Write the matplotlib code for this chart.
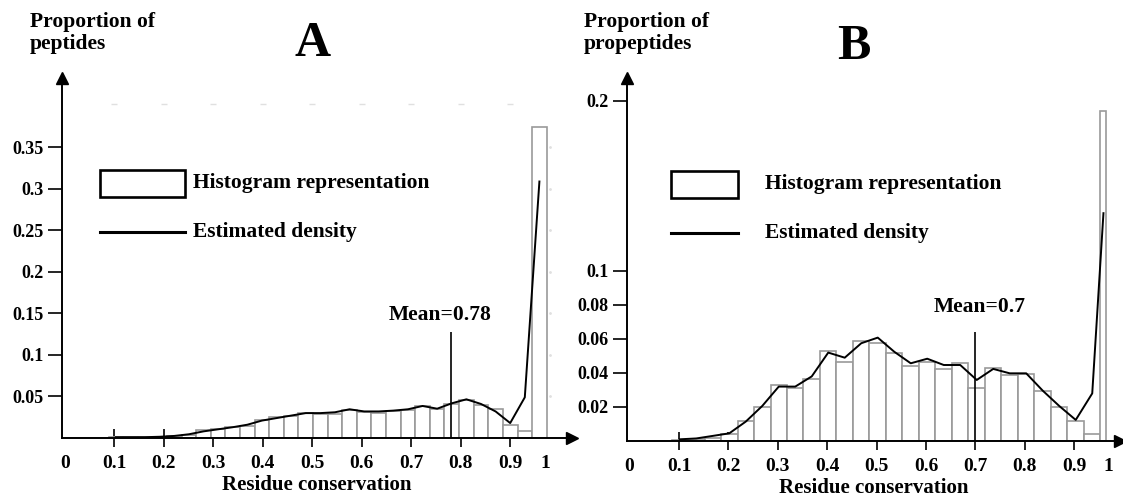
import numpy as np
import matplotlib.pyplot as plt
from matplotlib.patches import Rectangle
from matplotlib.lines import Line2D

plt.rcParams['font.family'] = ['Liberation Serif', 'DejaVu Serif']
plt.rcParams['font.weight'] = 'bold'
plt.rcParams['axes.labelweight'] = 'bold'

nan = np.nan

# ---- Panel A: peptides ----
a_bin_start = 0.0
a_bin_width = 0.0295
a_hist = [0.0005, 0.0005, 0.0005, 0.001, 0.001, 0.001, 0.001,
          0.0024, 0.0042, 0.0096, 0.011, 0.0136, 0.015, 0.0217, 0.025, 0.027,
          0.0297, 0.029, 0.029, 0.034, 0.031, 0.030, 0.033, 0.034, 0.038,
          0.035, 0.041, 0.046, 0.040, 0.0346, 0.016, 0.008, 0.375]
a_density = [nan, nan, nan, 0.001, 0.001, 0.001, 0.0015, 0.0025, 0.0045,
             0.008, 0.0105, 0.013, 0.016, 0.021, 0.024, 0.027, 0.030, 0.030,
             0.031, 0.0346, 0.032, 0.032, 0.033, 0.0346, 0.0386, 0.0353,
             0.0418, 0.0466, 0.041, 0.032, 0.018, 0.049, 0.309]
a_mean = 0.78
a_mean_top = 0.128
a_yticks = [0.05, 0.1, 0.15, 0.2, 0.25, 0.3, 0.35]
a_yticklabels = ['0.05', '0.1', '0.15', '0.2', '0.25', '0.3', '0.35']

# ---- Panel B: propeptides ----
b_bin_start = 0.018
b_bin_width = 0.0334
b_hist = [0.0, 0.0, 0.0005, 0.001, 0.002, 0.004, 0.012, 0.020, 0.033, 0.031,
          0.0365, 0.053, 0.0467, 0.059, 0.0575, 0.052, 0.0443, 0.0467, 0.0424,
          0.046, 0.031, 0.0428, 0.0388, 0.0394, 0.0296, 0.020, 0.0118, 0.004]
b_last_bar = 0.194
b_density = [nan, nan, 0.001, 0.0015, 0.003, 0.0045, 0.0114, 0.0206, 0.032,
             0.032, 0.038, 0.052, 0.049, 0.0575, 0.0608, 0.0525, 0.0457,
             0.0484, 0.0447, 0.0447, 0.0359, 0.0424, 0.0398, 0.0398, 0.0296,
             0.0206, 0.0124, 0.028, 0.134]
b_mean = 0.7
b_mean_top = 0.064
b_yticks = [0.02, 0.04, 0.06, 0.08, 0.1, 0.2]
b_yticklabels = ['0.02', '0.04', '0.06', '0.08', '0.1', '0.2']

x_ticks = [0, 0.1, 0.2, 0.3, 0.4, 0.5, 0.6, 0.7, 0.8, 0.9, 0.97]
x_ticklabels = ['0', '0.1', '0.2', '0.3', '0.4', '0.5', '0.6', '0.7', '0.8', '0.9', '1']

BAR_EDGE = '#9a9a9a'


def style_axes(ax, xlim, ylim, yticks, yticklabels):
    ax.set_xlim(*xlim)
    ax.set_ylim(*ylim)
    for side in ('top', 'right'):
        ax.spines[side].set_visible(False)
    for side in ('left', 'bottom'):
        ax.spines[side].set_linewidth(1.4)
    ax.plot(1, 0, marker='>', color='k', ms=8, transform=ax.transAxes, clip_on=False)
    ax.plot(0, 1, marker='^', color='k', ms=8, transform=ax.transAxes, clip_on=False)

    ax.set_xticks(x_ticks, x_ticklabels)
    ax.tick_params(axis='x', direction='inout', length=13, width=1.2, labelsize=14, pad=6)
    ticks = ax.xaxis.get_major_ticks()
    ticks[0].tick1line.set_visible(False)
    ticks[-1].tick1line.set_visible(False)

    ax.set_yticks(yticks, yticklabels)
    ax.tick_params(axis='y', direction='out', length=10, width=1.2, labelsize=13, pad=3)
    ax.set_xlabel('Residue conservation', fontsize=15, fontweight='bold', labelpad=2)


def draw_legend(ax, rect_x, rect_w, text_x):
    ax.add_patch(Rectangle((rect_x, 0.670), rect_w, 0.074, transform=ax.transAxes,
                           fill=False, edgecolor='k', linewidth=1.9, clip_on=False))
    ax.add_line(Line2D([rect_x, rect_x + rect_w], [0.572, 0.572], transform=ax.transAxes,
                       color='k', linewidth=2.2))
    ax.text(text_x, 0.707, 'Histogram representation', transform=ax.transAxes,
            fontsize=15.5, va='center', ha='left')
    ax.text(text_x, 0.572, 'Estimated density', transform=ax.transAxes,
            fontsize=15.5, va='center', ha='left')


fig = plt.figure(figsize=(11.23, 5.01), dpi=100)

# ---------- A ----------
ax_a = fig.add_axes([62 / 1123, 63 / 501, 510 / 1123, 360 / 501])
a_left = a_bin_start + a_bin_width * np.arange(len(a_hist))
ax_a.bar(a_left, a_hist, width=a_bin_width, align='edge', facecolor='white',
         edgecolor=BAR_EDGE, linewidth=1.2, zorder=2)
ax_a.plot(a_left + a_bin_width / 2, a_density, color='k', lw=1.4, zorder=3)
ax_a.vlines(a_mean, 0, a_mean_top, color='k', lw=1.2, zorder=4)
ax_a.text(0.741, 0.342, 'Mean=%g' % a_mean, transform=ax_a.transAxes,
          fontsize=15.5, ha='center', va='center')
# faint remnants of the original frame
ax_a.plot(x_ticks[1:10], [0.402] * 9, ls='none', marker='_', ms=4, color='#e0e0e0')
ax_a.plot([0.981] * len(a_yticks), a_yticks, ls='none', marker='.', ms=2, color='#e0e0e0')
style_axes(ax_a, (-0.0057, 1.0246), (0, 0.4337), a_yticks, a_yticklabels)
draw_legend(ax_a, 0.0745, 0.1667, 0.257)

# ---------- B ----------
ax_b = fig.add_axes([626.7 / 1123, 60 / 501, 493.3 / 1123, 363 / 501])
b_left = b_bin_start + b_bin_width * np.arange(len(b_hist))
ax_b.bar(b_left, b_hist, width=b_bin_width, align='edge', facecolor='white',
         edgecolor=BAR_EDGE, linewidth=1.2, zorder=2)
last_left = b_bin_start + b_bin_width * len(b_hist)
ax_b.bar(last_left, b_last_bar, width=0.012, align='edge', facecolor='white',
         edgecolor=BAR_EDGE, linewidth=1.2, zorder=2)
b_x = np.append(b_left + b_bin_width / 2, last_left + 0.006)
ax_b.plot(b_x, b_density, color='k', lw=1.4, zorder=3)
ax_b.vlines(b_mean, 0, b_mean_top, color='k', lw=1.2, zorder=4)
ax_b.text(0.716, 0.369, 'Mean=%g' % b_mean, transform=ax_b.transAxes,
          fontsize=15.5, ha='center', va='center')
style_axes(ax_b, (-0.0059, 0.9927), (0, 0.2135), b_yticks, b_yticklabels)
draw_legend(ax_b, 0.089, 0.136, 0.280)

# ---------- panel titles / y labels ----------
fig.text(30 / 1123, 1 - 12 / 501, 'Proportion of\npeptides', fontsize=15.5,
         ha='left', va='top', linespacing=1.1)
fig.text(584 / 1123, 1 - 12 / 501, 'Proportion of\npropeptides', fontsize=15.5,
         ha='left', va='top', linespacing=1.1)
fig.text(313 / 1123, 1 - 44 / 501, 'A', fontsize=36, ha='center', va='center')
fig.text(854 / 1123, 1 - 47 / 501, 'B', fontsize=36, ha='center', va='center')

fig.savefig('out.png', dpi=100)
